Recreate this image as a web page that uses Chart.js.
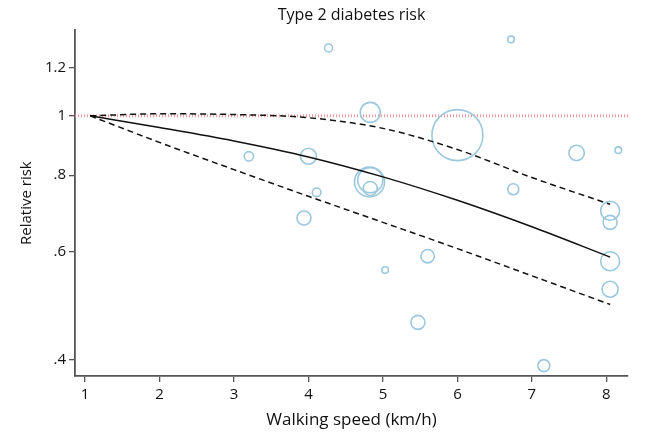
<!DOCTYPE html>
<html>
<head>
<meta charset="utf-8">
<script src="https://cdn.jsdelivr.net/npm/chart.js@4"></script>
<style>
  html, body { margin: 0; padding: 0; background: #fff; }
  #wrap { width: 650px; height: 434px; }
</style>
</head>
<body>
<div id="wrap"><canvas id="chart"></canvas></div>
<script>
// studies: walking speed, relative risk, bubble radius (study weight)
const studySpeed = [4.27, 3.20, 4.00, 4.11, 3.94, 4.83, 6.00, 6.72, 7.60, 8.16, 6.75, 4.82, 4.83, 4.83, 8.05, 8.05, 8.05, 8.05, 5.60, 5.03, 5.47, 7.16]
const studyRR    = [1.291, 0.859, 0.859, 0.750, 0.681, 1.013, 0.930, 1.333, 0.870, 0.879, 0.759, 0.780, 0.785, 0.761, 0.700, 0.670, 0.579, 0.521, 0.590, 0.560, 0.460, 0.391]
const studySize  = [4, 4.7, 8, 4.3, 7, 10, 25.5, 3.3, 7.7, 3.3, 5.5, 15, 12.5, 7, 9.5, 7, 9.5, 8, 6.7, 3.3, 7, 6]

// pooled dose-response curve and 95% CI
const curveSpeed = [1.07, 2, 3, 4, 5, 6, 7, 8.05]
const curveRR    = [1.0, 0.957, 0.910, 0.857, 0.795, 0.728, 0.659, 0.588]
const upperRR    = [1.0, 1.008, 1.005, 0.993, 0.954, 0.881, 0.793, 0.717]
const lowerRR    = [1.0, 0.905, 0.817, 0.739, 0.670, 0.607, 0.548, 0.492]

const xTicks = [1, 2, 3, 4, 5, 6, 7, 8]
const yTicks = [0.4, 0.6, 0.8, 1, 1.2]
const xMin = 0.866, xMax = 8.29
const yMin = 0.376, yMax = 1.38

const toPts = (xs, ys) => xs.map((x, i) => ({ x: x, y: ys[i] }))
const font = "'Open Sans', 'Noto Sans', sans-serif"

new Chart("chart", {
  data: {
    datasets: [
      {
        type: "line",
        label: "null",
        data: [{ x: xMin, y: 1 }, { x: xMax, y: 1 }],
        borderColor: "rgba(232, 130, 130, 0.8)",
        borderWidth: 3,
        borderDash: [1, 2],
        pointRadius: 0,
        order: 4,
      },
      {
        type: "bubble",
        label: "studies",
        data: studySpeed.map((x, i) => ({ x: x, y: studyRR[i], r: studySize[i] })),
        borderColor: "rgb(155, 200, 222)",
        backgroundColor: "rgba(0,0,0,0)",
        borderWidth: 1.6,
        hoverRadius: 0,
        order: 3,
      },
      {
        type: "line",
        label: "upper",
        data: toPts(curveSpeed, upperRR),
        borderColor: "#111",
        borderWidth: 1.5,
        borderDash: [6, 4],
        cubicInterpolationMode: "monotone",
        pointRadius: 0,
        order: 1,
      },
      {
        type: "line",
        label: "lower",
        data: toPts(curveSpeed, lowerRR),
        borderColor: "#111",
        borderWidth: 1.5,
        borderDash: [6, 4],
        cubicInterpolationMode: "monotone",
        pointRadius: 0,
        order: 1,
      },
      {
        type: "line",
        label: "RR",
        data: toPts(curveSpeed, curveRR),
        borderColor: "#111",
        borderWidth: 1.5,
        cubicInterpolationMode: "monotone",
        pointRadius: 0,
        order: 0,
      },
    ]
  },
  options: {
    responsive: true,
    maintainAspectRatio: false,
    animation: false,
    events: [],
    layout: { autoPadding: false, padding: { left: 18, right: 22, top: 0, bottom: 0 } },
    plugins: {
      legend: { display: false },
      tooltip: { enabled: false },
      title: {
        display: true,
        fullSize: false,
        text: "Type 2 diabetes risk",
        color: "#111",
        font: { family: font, size: 16, weight: "normal" },
        padding: { top: 6, bottom: 5 }
      }
    },
    scales: {
      x: {
        type: "linear",
        min: xMin,
        max: xMax,
        afterBuildTicks: (s) => { s.ticks = xTicks.map(v => ({ value: v })) },
        afterFit: (s) => { s.height = 58 },
        grid: { display: true, drawOnChartArea: false, drawTicks: true, tickLength: 6, color: "#555", lineWidth: 1.3 },
        border: { display: true, color: "#555", width: 1.8 },
        ticks: { color: "#111", font: { family: font, size: 15 }, padding: 4, maxRotation: 0 },
        title: {
          display: true,
          text: "Walking speed (km/h)",
          color: "#111",
          font: { family: font, size: 17 },
          padding: { top: 2, bottom: 4 }
        }
      },
      y: {
        type: "logarithmic",
        min: yMin,
        max: yMax,
        afterBuildTicks: (s) => { s.ticks = yTicks.map(v => ({ value: v })) },
        afterFit: (s) => { s.width = 57 },
        grid: { display: true, drawOnChartArea: false, drawTicks: true, tickLength: 6, color: "#555", lineWidth: 1.3 },
        border: { display: true, color: "#555", width: 1.8 },
        ticks: {
          color: "#111",
          font: { family: font, size: 15 },
          padding: 3,
          callback: (v) => String(v).replace(/^0\./, ".")
        },
        title: {
          display: true,
          text: "Relative risk",
          color: "#111",
          font: { family: font, size: 15 },
          padding: { top: 0, bottom: 6 }
        }
      }
    }
  }
})
</script>
</body>
</html>
